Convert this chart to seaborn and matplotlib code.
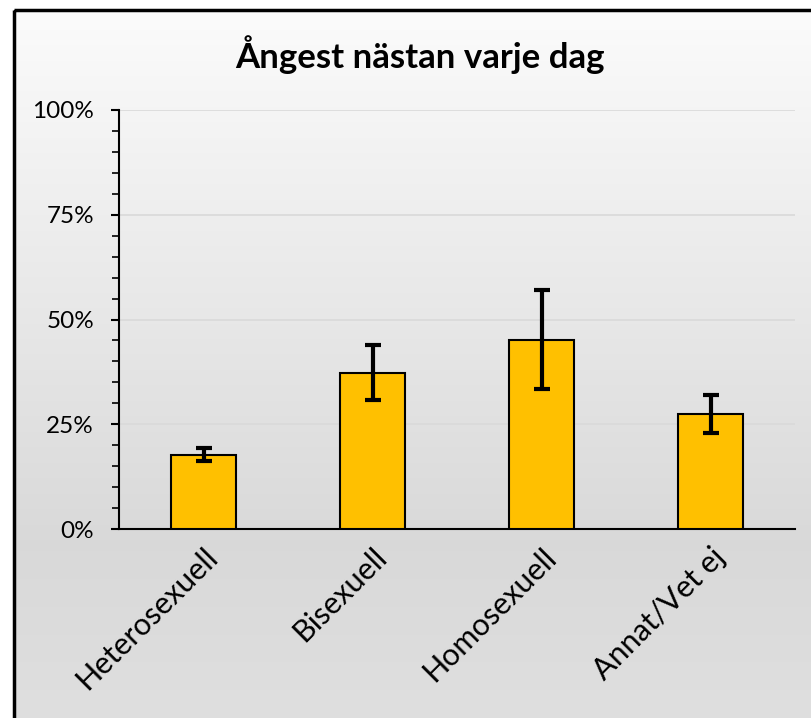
import numpy as np
import pandas as pd
import matplotlib
matplotlib.use("Agg")
import matplotlib.pyplot as plt
from matplotlib.ticker import MultipleLocator, PercentFormatter
from matplotlib.patches import Rectangle
import seaborn as sns

categories = ["Heterosexuell", "Bisexuell", "Homosexuell", "Annat/Vet ej"]
values = [17.7, 37.3, 45.1, 27.4]
err_low = [16.2, 30.8, 33.4, 22.8]
err_high = [19.3, 44.0, 57.0, 32.1]
title = "Ångest nästan varje dag"

sns.set_theme(style="white")
plt.rcParams['font.family'] = ['Lato', 'DejaVu Sans']

W, H = 811, 718
fig = plt.figure(figsize=(W / 100, H / 100), dpi=100)
fig.patch.set_facecolor("white")

# background gradient with border
bg = fig.add_axes([0, 0, 1, 1], zorder=-10)
bg.set_xlim(0, W)
bg.set_ylim(H, 0)
bg.axis("off")
ys = np.linspace(0, 1, 256)
stops_y = [0.0, 0.75, 1.0]
stops_c = [0.985, 0.85, 0.875]
g = np.interp(ys, stops_y, stops_c)
grad = np.repeat(g[:, None], 2, axis=1)
bg.imshow(np.dstack([grad, grad, grad]), extent=[14, W + 5, H + 5, 10],
          aspect="auto", interpolation="bilinear", zorder=0)
bg.add_patch(Rectangle((14, 10), W, H, fill=False, edgecolor="black", lw=2.5, zorder=1))

ax = fig.add_axes([119 / W, 1 - 529 / H, (795 - 119) / W, (529 - 110) / H])
ax.patch.set_alpha(0)

df = pd.DataFrame({"cat": categories, "val": values})
sns.barplot(data=df, x="cat", y="val", color="#FFC000", saturation=1,
            edgecolor="black", linewidth=1.5, width=0.385, errorbar=None, ax=ax, zorder=3)

x = np.arange(len(categories))
vals = np.array(values)
yerr = np.vstack([vals - np.array(err_low), np.array(err_high) - vals])
ax.errorbar(x, vals, yerr=yerr, fmt="none", ecolor="black", elinewidth=3,
            capsize=6, capthick=3, zorder=4)

ax.set_xlim(-0.5, len(categories) - 0.5)
ax.set_ylim(0, 100)
ax.yaxis.set_major_locator(MultipleLocator(25))
ax.yaxis.set_minor_locator(MultipleLocator(5))
ax.yaxis.set_major_formatter(PercentFormatter(decimals=0))
ax.grid(axis="y", which="major", color="#D9D9D9", lw=1.2, zorder=0)
ax.set_axisbelow(True)
for s in ["top", "right"]:
    ax.spines[s].set_visible(False)
ax.spines["left"].set_color("black")
ax.spines["left"].set_linewidth(1.5)
ax.spines["bottom"].set_color("black")
ax.spines["bottom"].set_linewidth(1.5)
ax.tick_params(axis="y", which="major", direction="out", length=6, width=1.5,
               color="black", labelsize=17.5, labelcolor="black", left=True, pad=12)
ax.tick_params(axis="y", which="minor", direction="out", length=5, width=1.2,
               color="black", left=True)
ax.tick_params(axis="x", length=0, labelsize=22, labelcolor="black", pad=10)
ax.set_xlabel("")
ax.set_ylabel("")
for lbl in ax.get_xticklabels():
    lbl.set_rotation(45)
    lbl.set_ha("right")
    lbl.set_rotation_mode("anchor")

fig.text(420 / W, 1 - 55 / H, title, ha="center", va="center",
         fontsize=25, fontweight="bold", color="black")

fig.savefig("out.png", dpi=100)
